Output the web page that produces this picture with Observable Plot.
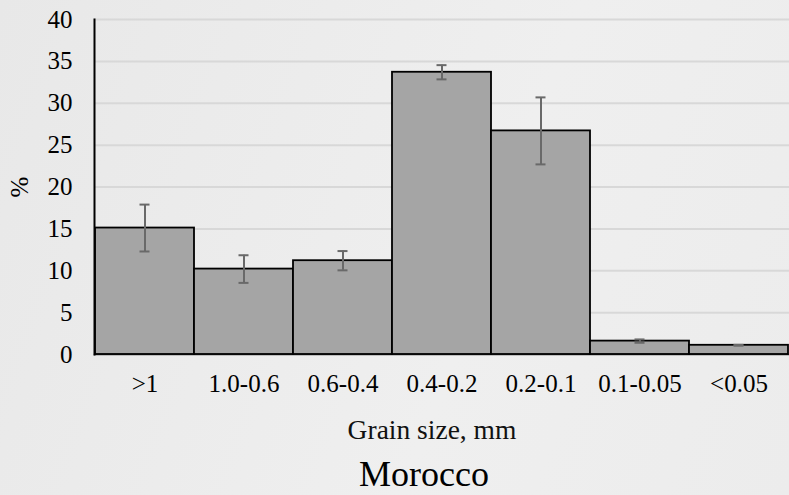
<!DOCTYPE html>
<html>
<head>
<meta charset="utf-8">
<script src="https://cdn.jsdelivr.net/npm/d3@7"></script>
<script src="https://cdn.jsdelivr.net/npm/@observablehq/plot@0.6"></script>
<style>
  html, body { margin: 0; padding: 0; }
  body { width: 789px; height: 495px; overflow: hidden; position: relative;
         background: linear-gradient(110deg, #e8e8e8 0%, #efefef 60%, #ececec 100%);
         font-family: "Liberation Serif", "Times New Roman", serif; color: #000; }
  #xlabel { position: absolute; left: 0; top: 414px; width: 864px; text-align: center;
            font-size: 27.5px; line-height: 32px; color: #111; }
  #title { position: absolute; left: 0; top: 456px; width: 848px; text-align: center;
           font-size: 36px; line-height: 36px; }
</style>
</head>
<body>
<div id="chart"></div>
<div id="xlabel">Grain size, mm</div>
<div id="title">Morocco</div>
<script>
const categories = [">1", "1.0-0.6", "0.6-0.4", "0.4-0.2", "0.2-0.1", "0.1-0.05", "<0.05"];
const values = [15.1, 10.2, 11.2, 33.7, 26.7, 1.6, 1.1];
const errors = [2.8, 1.65, 1.15, 0.85, 4.0, 0.2, 0.05];
const yTicks = [0, 5, 10, 15, 20, 25, 30, 35, 40];

const data = categories.map((c, i) => ({c, v: values[i], lo: values[i] - errors[i], hi: values[i] + errors[i]}));
const serif = "Liberation Serif";

const chart = Plot.plot({
  width: 789,
  height: 405,
  marginLeft: 94,
  marginRight: 0,
  marginTop: 19,
  marginBottom: 51,
  style: "background: transparent; color: #000; overflow: visible; font-family: 'Liberation Serif', serif;",
  x: {domain: categories, padding: 0, label: null},
  y: {domain: [0, 40], label: null},
  marks: [
    Plot.gridY(yTicks, {stroke: "#d8d8d8", strokeOpacity: 1, strokeWidth: 2}),
    Plot.frame({anchor: "bottom", stroke: "#555", strokeWidth: 1.5}),
    Plot.barY(data, {x: "c", y: "v", fill: "#a5a5a5", stroke: "#000", strokeWidth: 1.8}),
    Plot.ruleX(data, {x: "c", y1: "lo", y2: "hi", stroke: "#696969", strokeWidth: 2}),
    Plot.tickY(data, {x: "c", y: "lo", stroke: "#696969", strokeWidth: 2, insetLeft: 44.5, insetRight: 44.5}),
    Plot.tickY(data, {x: "c", y: "hi", stroke: "#696969", strokeWidth: 2, insetLeft: 44.5, insetRight: 44.5}),
    Plot.frame({anchor: "left", stroke: "#000", strokeWidth: 2}),
    Plot.axisY(yTicks, {tickSize: 0, tickPadding: 22, fontSize: 25, fontFamily: serif, label: "%", labelAnchor: "center", labelArrow: "none", labelOffset: 84}),
    Plot.axisX({tickSize: 0, tickPadding: 20, fontSize: 25, fontFamily: serif, label: null})
  ]
});
document.getElementById("chart").appendChild(chart);
</script>
</body>
</html>
